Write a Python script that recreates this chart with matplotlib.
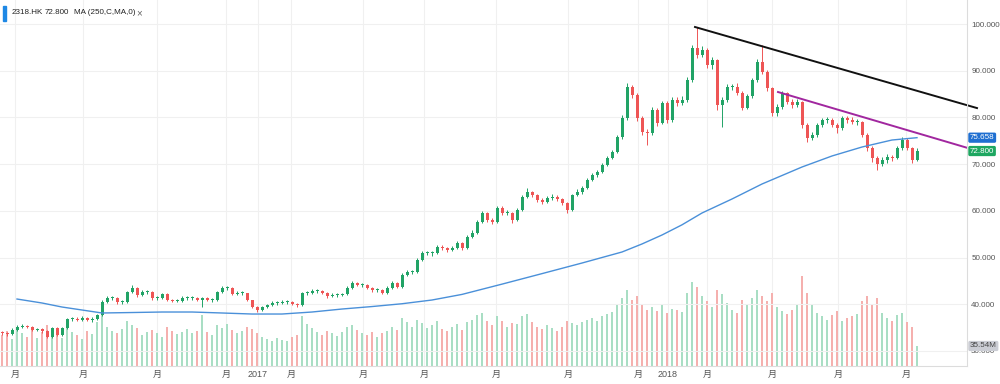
import numpy as np
import matplotlib.pyplot as plt
from matplotlib.patches import Rectangle
from matplotlib.transforms import blended_transform_factory

plt.rcParams['font.family'] = ['Liberation Sans', 'Noto Sans CJK SC', 'DejaVu Sans']

# candles, each about three trading days, May 2016 - Aug 2018
first_open = 33.9
closes = [
    33.83, 33.62, 34.48, 35.12, 35.33, 35.12, 34.48, 34.69, 34.26, 32.98,
    34.91, 33.41, 34.91, 36.83, 36.83, 36.62, 37.05, 36.62, 36.83, 37.69,
    40.47, 41.33, 41.33, 40.47, 40.47, 42.61, 43.47, 41.97, 42.61, 42.61,
    41.33, 41.33, 42.19, 40.90, 40.69, 40.69, 41.33, 41.33, 41.33, 40.90,
    41.33, 40.90, 40.90, 42.61, 43.47, 43.47, 42.19, 42.40, 42.40, 40.90,
    39.40, 38.76, 39.40, 39.83, 40.26, 40.26, 40.47, 40.47, 40.04, 39.83,
    42.40, 42.40, 42.83, 42.83, 42.40, 41.76, 41.97, 41.97, 42.19, 43.47,
    44.54, 44.11, 44.11, 43.47, 43.04, 43.04, 42.40, 43.47, 44.54, 43.68,
    46.25, 46.90, 46.90, 49.47, 50.97, 50.97, 50.97, 52.25, 52.04, 51.61,
    52.04, 53.11, 52.04, 54.39, 55.25, 57.60, 59.53, 58.03, 57.60, 60.60,
    59.53, 59.53, 58.03, 60.17, 62.96, 64.03, 63.38, 62.31, 61.89, 62.74,
    62.96, 62.53, 61.67, 60.17, 63.38, 64.03, 64.88, 66.60, 67.67, 68.31,
    69.81, 71.31, 72.59, 75.80, 79.87, 86.51, 84.80, 79.87, 76.87, 76.66,
    81.59, 78.80, 83.08, 79.44, 83.73, 83.08, 83.73, 88.01, 94.86, 93.36,
    94.43, 91.22, 92.29, 82.66, 83.73, 86.51, 86.51, 85.23, 82.01, 84.58,
    88.01, 91.86, 89.72, 86.30, 80.94, 82.23, 85.23, 83.30, 82.66, 83.30,
    78.37, 75.59, 76.23, 78.37, 79.44, 79.44, 78.37, 77.73, 79.87, 79.44,
    79.02, 79.02, 76.23, 73.45, 71.31, 70.02, 70.88, 71.52, 71.31, 73.45,
    75.16, 73.45, 70.88, 72.80,
]
highs = [
    34.2, 34.1, 34.8, 35.5, 35.8, 35.6, 35.3, 35.0, 34.9, 34.4,
    35.2, 35.1, 35.2, 37.1, 37.3, 37.2, 37.4, 37.3, 37.2, 38.0,
    40.9, 41.8, 41.7, 41.5, 41.0, 42.9, 44.1, 43.6, 43.0, 43.1,
    42.8, 41.8, 42.5, 42.3, 41.1, 41.1, 41.7, 41.7, 41.8, 41.5,
    41.6, 41.5, 41.3, 42.9, 44.0, 43.9, 43.6, 42.8, 42.9, 42.5,
    41.0, 39.6, 39.7, 40.1, 40.6, 40.6, 40.8, 40.8, 40.7, 40.3,
    42.7, 42.8, 43.2, 43.2, 43.0, 42.6, 42.3, 42.4, 42.5, 43.8,
    44.9, 44.8, 44.5, 44.3, 43.7, 43.4, 43.2, 43.8, 44.9, 44.7,
    46.6, 47.3, 47.4, 49.9, 51.4, 51.5, 51.4, 52.7, 52.6, 52.3,
    52.5, 53.6, 53.3, 54.8, 55.8, 58.0, 60.0, 59.8, 58.5, 61.0,
    61.0, 60.1, 59.8, 60.6, 63.4, 64.8, 64.3, 63.6, 62.7, 63.1,
    63.5, 63.3, 62.8, 61.9, 63.7, 64.6, 65.4, 67.0, 68.1, 68.8,
    70.3, 71.8, 73.1, 76.3, 80.5, 87.4, 87.0, 85.2, 80.3, 77.6,
    82.2, 82.0, 83.6, 83.5, 84.3, 84.4, 84.5, 88.6, 95.6, 99.4,
    95.2, 94.9, 93.0, 92.6, 84.4, 87.1, 87.2, 87.4, 85.6, 85.0,
    88.5, 92.5, 95.5, 90.2, 86.6, 82.9, 85.6, 85.5, 83.9, 83.9,
    83.6, 78.7, 76.9, 78.8, 79.9, 80.0, 79.8, 78.7, 80.3, 80.4,
    80.1, 79.6, 79.3, 76.6, 73.8, 71.7, 71.6, 72.2, 72.0, 73.9,
    75.7, 75.5, 73.7, 73.5,
]
lows = [
    33.4, 33.2, 33.4, 34.3, 34.9, 34.8, 34.2, 34.2, 33.9, 32.7,
    32.8, 33.1, 33.2, 34.7, 36.4, 36.3, 36.4, 36.3, 36.2, 36.6,
    37.5, 40.2, 40.8, 40.1, 40.1, 40.3, 42.4, 41.6, 41.8, 42.2,
    41.0, 41.0, 41.1, 40.6, 40.4, 40.4, 40.5, 41.0, 40.9, 40.6,
    39.5, 40.6, 40.5, 40.7, 42.4, 43.0, 41.9, 41.9, 42.0, 40.6,
    39.1, 38.4, 38.5, 39.2, 39.6, 39.9, 40.0, 40.1, 39.8, 39.4,
    39.6, 42.0, 42.2, 42.5, 42.1, 41.4, 41.5, 41.6, 41.8, 42.0,
    43.3, 43.8, 43.7, 43.2, 42.7, 42.7, 42.1, 42.2, 43.3, 43.4,
    43.5, 46.0, 46.4, 46.7, 49.2, 50.5, 50.4, 50.7, 51.6, 51.2,
    51.3, 51.8, 51.6, 51.8, 54.1, 55.0, 57.3, 57.6, 57.1, 57.3,
    59.1, 59.0, 57.4, 57.8, 59.9, 62.7, 62.9, 61.9, 61.4, 61.6,
    62.4, 62.1, 61.2, 59.5, 59.9, 63.1, 63.7, 64.6, 66.3, 67.3,
    68.0, 69.5, 71.0, 72.3, 75.4, 79.5, 84.2, 79.2, 76.2, 74.0,
    76.3, 78.2, 78.5, 78.8, 79.1, 82.4, 82.7, 83.4, 87.6, 92.8,
    92.9, 90.6, 90.4, 81.6, 77.9, 83.3, 85.9, 84.8, 81.5, 81.7,
    84.2, 87.6, 89.2, 85.6, 80.2, 80.4, 81.9, 82.8, 82.1, 82.3,
    77.8, 74.8, 75.1, 75.9, 78.0, 78.9, 77.9, 76.7, 77.4, 78.9,
    78.5, 78.4, 75.7, 72.9, 70.5, 68.8, 69.5, 70.3, 70.7, 71.0,
    73.1, 73.0, 70.2, 70.6,
]
# volume in millions of shares
volumes = [
    55, 62, 48, 70, 58, 52, 66, 50, 60, 72,
    58, 64, 50, 75, 60, 55, 48, 62, 57, 78,
    95, 70, 62, 58, 66, 80, 72, 68, 55, 60,
    64, 58, 52, 70, 62, 56, 60, 66, 58, 63,
    90, 60, 55, 72, 68, 75, 64, 58, 62, 70,
    66, 58, 52, 48, 45, 50, 47, 44, 52, 55,
    88, 75, 68, 60, 55, 62, 58, 54, 60, 70,
    72, 64, 58, 55, 60, 52, 58, 62, 70, 64,
    85, 78, 70, 82, 76, 68, 72, 80, 66, 62,
    70, 74, 64, 78, 82, 90, 95, 80, 72, 88,
    80, 70, 76, 74, 88, 92, 78, 70, 66, 72,
    68, 62, 70, 80, 76, 72, 78, 82, 85, 80,
    88, 92, 96, 110, 120, 135, 118, 125, 110, 100,
    105, 98, 110, 95, 102, 100, 96, 130, 150, 140,
    125, 115, 105, 135, 128, 112, 100, 95, 118, 108,
    120, 135, 125, 115, 130, 105, 98, 92, 100, 110,
    160, 130, 110, 95, 88, 82, 90, 98, 80, 85,
    88, 92, 115, 125, 110, 120, 95, 85, 80, 90,
    95, 78, 70, 35.54,
]

# MA(250) read at some candle positions
ma_idx = [3, 8, 12, 16, 20, 26, 32, 38, 44, 50, 56, 62, 68, 74, 80,
          86, 92, 100, 108, 116, 124, 128, 132, 136, 140, 146, 152, 160,
          166, 172, 178, 183]
ma_vals = [41.11, 40.26, 39.40, 38.76, 38.12, 38.22, 38.33, 38.33, 38.12, 37.90,
           37.90, 38.33, 38.97, 39.50, 40.10, 40.90, 42.10, 44.30, 46.55, 48.82,
           51.18, 52.90, 54.82, 57.00, 59.53, 62.53, 65.74, 69.38, 71.74, 73.66,
           75.16, 75.658]

tick_pos = [2.6, 16.2, 31.0, 44.8, 51.2, 57.8, 72.2, 84.4, 98.8, 113.2,
            127.2, 133.2, 141.0, 154.0, 167.2, 180.8]
tick_labels = ['月', '月', '月', '月', '2017', '月', '月', '月', '月', '月',
               '月', '2018', '月', '月', '月', '月']
price_ticks = [30, 40, 50, 60, 70, 80, 90, 100]

# hand-drawn trend lines
black_x = [138.6, 195.0]
black_y = [99.36, 82.0]
purple_x = [155.2, 193.0]
purple_y = [85.44, 73.5]

up_col = '#21a366'
down_col = '#ee5555'
vol_up = '#a9dec4'
vol_down = '#f5b0ae'

opens = [first_open] + closes[:-1]
x = np.arange(len(closes))
o = np.array(opens)
c = np.array(closes)
up = c >= o
cols = np.where(up, up_col, down_col)

fig = plt.figure(figsize=(10, 3.84), dpi=100)
rect = [0, 18 / 384, 0.967, 366 / 384]
ax_vol = fig.add_axes(rect)
ax = fig.add_axes(rect, sharex=ax_vol)
ax.patch.set_alpha(0)

# volume
ax_vol.bar(x, volumes, width=0.55, color=np.where(up, vol_up, vol_down), linewidth=0)
ax_vol.set_ylim(0, 650)
ax_vol.grid(True, axis='x', color='#f0f0f0', linewidth=0.8)
ax_vol.set_axisbelow(True)
ax_vol.tick_params(left=False, labelleft=False, bottom=False, labelbottom=False)
for s in ax_vol.spines.values():
    s.set_visible(False)

# candles
ax.vlines(x, lows, highs, colors=cols, linewidth=0.7)
body = np.maximum(np.abs(c - o), 0.12)
ax.bar(x, body, bottom=np.minimum(o, c), width=0.6, color=cols, linewidth=0)

ax.plot(ma_idx, ma_vals, color='#4a90d9', linewidth=1.0)
ax.plot(black_x, black_y, color='#111111', linewidth=1.4, clip_on=False)
ax.plot(purple_x, purple_y, color='#a1279f', linewidth=1.4, clip_on=False)

ax.set_xlim(-0.4, 193.0)
ax.set_ylim(26.77, 105.14)
ax.set_yticks(price_ticks, [f'{v:.3f}' for v in price_ticks])
ax.yaxis.tick_right()
ax.set_xticks(tick_pos, tick_labels)
ax.tick_params(axis='y', length=0, pad=3, labelsize=5.8, labelcolor='#555555')
ax.tick_params(axis='x', length=0, pad=3, labelsize=6.5, labelcolor='#555555')
ax.grid(True, axis='y', color='#f0f0f0', linewidth=0.8)
ax.set_axisbelow(True)
for side in ['top', 'left']:
    ax.spines[side].set_visible(False)
for side in ['right', 'bottom']:
    ax.spines[side].set_color('#dcdcdc')

# value tags on the right
tr = blended_transform_factory(ax.transAxes, ax.transData)
ax.text(1.003, ma_vals[-1], f'{ma_vals[-1]:.3f}', transform=tr, fontsize=5.8, color='white',
        va='center', ha='left', clip_on=False, zorder=5,
        bbox=dict(boxstyle='round,pad=0.2', fc='#1f6fd1', ec='none'))
ax.text(1.003, closes[-1], f'{closes[-1]:.3f}', transform=tr, fontsize=5.8, color='white',
        va='center', ha='left', clip_on=False, zorder=5,
        bbox=dict(boxstyle='round,pad=0.2', fc='#1ea761', ec='none'))
trv = blended_transform_factory(ax.transAxes, ax_vol.transData)
ax.text(1.003, volumes[-1], f'{volumes[-1]:.2f}M', transform=trv, fontsize=5.8, color='#444444',
        va='center', ha='left', clip_on=False, zorder=5,
        bbox=dict(boxstyle='round,pad=0.2', fc='#cbcdd4', ec='none'))

# header
fig.patches.append(Rectangle((3 / 1000, 1 - 21 / 384), 3 / 1000, 15 / 384,
                             transform=fig.transFigure, color='#1e88e5'))
y_head = 1 - 13 / 384
fig.text(0.012, y_head, '2318.HK', fontsize=5.8, color='#222222', va='center')
fig.text(0.045, y_head, '72.800', fontsize=5.8, color='#222222', va='center')
fig.text(0.074, y_head, 'MA (250,C,MA,0)', fontsize=5.8, color='#222222', va='center')
fig.text(0.136, y_head, '×', fontsize=7, color='#666666', va='center')

fig.savefig('out.png', dpi=100)
